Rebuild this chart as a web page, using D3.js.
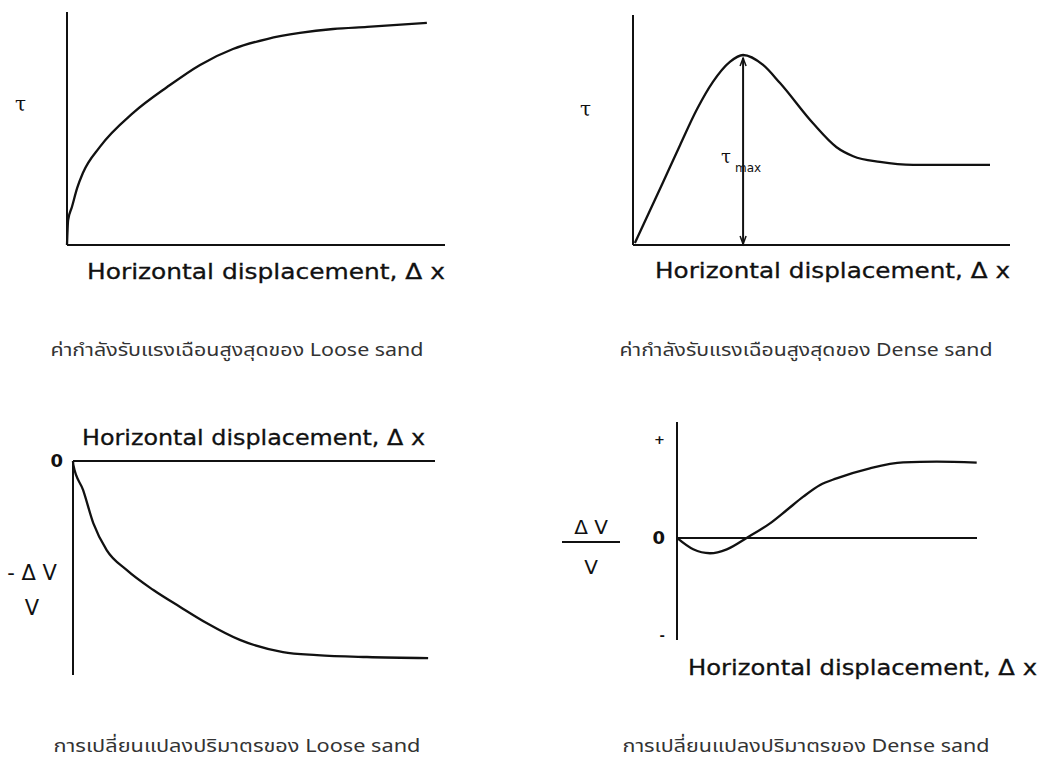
<!DOCTYPE html>
<html>
<head>
<meta charset="utf-8">
<script src="https://cdn.jsdelivr.net/npm/d3@7"></script>
<style>
  body { margin: 0; background: #fff; }
</style>
</head>
<body>
<div id="visualization"></div>
<script>
// shear stress vs horizontal displacement, loose sand
const looseShearX = [0, 0.3, 1.3, 2.7, 4.2, 8.7, 17.5, 26.5, 35.2, 43.9, 52.9, 61.6, 70.4, 79.4, 95.2];
const looseShearY = [0, 10.7, 16.3, 24.5, 30.9, 42.1, 56.7, 67.8, 77.3, 84.1, 88.4, 91, 92.7, 93.6, 95.3];

// shear stress vs horizontal displacement, dense sand (peak = tau max)
const denseShearX = [0.5, 8, 12.5, 17, 21.2, 25.7, 29.2, 34.5, 39, 47.7, 54, 58.4, 65.5, 74.3, 94.7];
const denseShearY = [0.9, 27.4, 43.5, 59.1, 70.9, 79.6, 82.6, 78.3, 70.4, 53, 42.5, 38.6, 36.1, 34.8, 34.8];
const tauMaxX = 29.2;
const tauMaxY = 82.6;

// volume change, loose sand (contracts)
const looseVolX = [0, 0.1, 2.8, 5.6, 9.3, 14.8, 22.2, 29.6, 36.9, 46.1, 58, 67.4, 81.2, 98.1];
const looseVolY = [0, -1.9, -13.6, -29, -41.6, -50.9, -60.3, -68.2, -75.7, -83.6, -89.3, -90.7, -91.6, -92.1];

// volume change, dense sand (small dip then dilates)
const denseVolX = [0, 5.4, 11, 16.6, 23.2, 31, 36.6, 42.1, 47.7, 53.2, 64.3, 75.4, 86.6, 99.9];
const denseVolY = [0, -9.8, -13.2, -9.8, 0, 12.6, 24.1, 35.6, 45.7, 51.4, 60.1, 65.2, 65.8, 64.9];

// tick labels on the volume axes
const looseVolTicks = [0];
const looseVolTickLabels = ['0'];
const denseVolTicks = [85, 0, -84];
const denseVolTickLabels = ['+', '0', '-'];

const xLabel = 'Horizontal displacement, Δ x';
const captions = [
  'ค่ากำลังรับแรงเฉือนสูงสุดของ Loose sand',
  'ค่ากำลังรับแรงเฉือนสูงสุดของ Dense sand',
  'การเปลี่ยนแปลงปริมาตรของ Loose sand',
  'การเปลี่ยนแปลงปริมาตรของ Dense sand',
];
const captionWidths = [373, 373, 367, 367];

const labelFont = '"DejaVu Sans", sans-serif';
const captionFont = '"Noto Sans Thai", "Noto Sans", sans-serif';

const svg = d3.select('#visualization')
  .append('svg')
  .attr('width', 1046)
  .attr('height', 761);

const toPoints = (xs, ys) => xs.map((x, i) => [x, ys[i]]);

function makeScales(frame, yDomain) {
  const x = d3.scaleLinear().domain([0, 100]).range([frame.left, frame.right]);
  const y = d3.scaleLinear().domain(yDomain).range([frame.bottom, frame.top]);
  return [x, y];
}

function drawCurve(x, y, points) {
  svg.append('path')
    .datum(points)
    .attr('fill', 'none')
    .attr('stroke', '#111')
    .attr('stroke-width', 2.3)
    .attr('d', d3.line()
      .x((d) => x(d[0]))
      .y((d) => y(d[1]))
      .curve(d3.curveMonotoneX));
}

function axisLine(x1, y1, x2, y2) {
  svg.append('line')
    .attr('x1', x1).attr('y1', y1)
    .attr('x2', x2).attr('y2', y2)
    .attr('stroke', '#111')
    .attr('stroke-width', 2);
}

function bottomLabel(xPos, yPos, len) {
  svg.append('text')
    .attr('x', xPos)
    .attr('y', yPos)
    .attr('font-family', labelFont)
    .attr('font-size', 21)
    .attr('fill', '#111')
    .attr('stroke', '#111')
    .attr('stroke-width', 0.3)
    .attr('textLength', len)
    .attr('lengthAdjust', 'spacingAndGlyphs')
    .text(xLabel);
}

function tauLabel(xPos, yPos) {
  svg.append('text')
    .attr('x', xPos)
    .attr('y', yPos)
    .attr('font-family', '"DejaVu Serif", serif')
    .attr('font-size', 20)
    .attr('fill', '#111')
    .text('τ');
}

// ---- panel 1: loose sand shear ----
{
  const [x, y] = makeScales({ left: 67, right: 445, top: 12, bottom: 245 }, [0, 100]);
  axisLine(x(0), y(100), x(0), y(0));
  axisLine(x(0), y(0), x(100), y(0));
  drawCurve(x, y, toPoints(looseShearX, looseShearY));
  tauLabel(15, 111);
  bottomLabel(87, 279, 358);
}

// ---- panel 2: dense sand shear ----
{
  const [x, y] = makeScales({ left: 633, right: 1010, top: 15, bottom: 245 }, [0, 100]);
  axisLine(x(0), y(100), x(0), y(0));
  axisLine(x(0), y(0), x(100), y(0));
  drawCurve(x, y, toPoints(denseShearX, denseShearY));

  // double arrow for tau max
  const ax = x(tauMaxX);
  axisLine(ax, y(tauMaxY) + 3, ax, y(0) - 1);
  svg.append('path')
    .attr('d', `M${ax - 3},${y(tauMaxY) + 11}L${ax},${y(tauMaxY) + 3}L${ax + 3},${y(tauMaxY) + 11}`)
    .attr('fill', 'none').attr('stroke', '#111').attr('stroke-width', 1.5);
  svg.append('path')
    .attr('d', `M${ax - 3},${y(0) - 9}L${ax},${y(0) - 1}L${ax + 3},${y(0) - 9}`)
    .attr('fill', 'none').attr('stroke', '#111').attr('stroke-width', 1.5);

  const t = svg.append('text')
    .attr('x', ax - 22)
    .attr('y', 163)
    .attr('font-family', '"DejaVu Serif", serif')
    .attr('font-size', 18)
    .attr('fill', '#111');
  t.append('tspan').text('τ');
  t.append('tspan')
    .attr('dx', 4)
    .attr('dy', 9)
    .attr('font-family', labelFont)
    .attr('font-size', 12)
    .text('max');

  tauLabel(580, 116);
  bottomLabel(655, 278, 355);
}

// ---- panel 3: loose sand volume ----
{
  const [x, y] = makeScales({ left: 73, right: 435, top: 461, bottom: 675 }, [-100, 0]);
  axisLine(x(0), y(0), x(0), y(-100));
  axisLine(x(0), y(0), x(100), y(0));
  drawCurve(x, y, toPoints(looseVolX, looseVolY));

  const ax = svg.append('g')
    .attr('transform', `translate(${x(0)},0)`)
    .call(d3.axisLeft(y)
      .tickValues(looseVolTicks)
      .tickFormat((d, i) => looseVolTickLabels[i])
      .tickSize(0)
      .tickPadding(10));
  ax.select('.domain').remove();
  ax.selectAll('text')
    .attr('font-family', labelFont)
    .attr('font-weight', 'bold')
    .attr('font-size', 18)
    .attr('fill', '#111');

  svg.append('text')
    .attr('x', 32).attr('y', 580)
    .attr('text-anchor', 'middle')
    .attr('font-family', labelFont)
    .attr('font-size', 21)
    .attr('fill', '#111')
    .text('- Δ V');
  svg.append('text')
    .attr('x', 32).attr('y', 615)
    .attr('text-anchor', 'middle')
    .attr('font-family', labelFont)
    .attr('font-size', 21)
    .attr('fill', '#111')
    .text('V');

  bottomLabel(82, 445, 343);
}

// ---- panel 4: dense sand volume ----
{
  const [x, y] = makeScales({ left: 677, right: 977, top: 422, bottom: 640 }, [-88, 100]);
  axisLine(x(0), y(100), x(0), y(-88));
  axisLine(x(0), y(0), x(100), y(0));
  drawCurve(x, y, toPoints(denseVolX, denseVolY));

  const ax = svg.append('g')
    .attr('transform', `translate(${x(0)},0)`)
    .call(d3.axisLeft(y)
      .tickValues(denseVolTicks)
      .tickFormat((d, i) => denseVolTickLabels[i])
      .tickSize(0)
      .tickPadding(12));
  ax.select('.domain').remove();
  ax.selectAll('text')
    .attr('font-family', labelFont)
    .attr('font-weight', 'bold')
    .attr('font-size', (d) => (d === 0 ? 18 : 13))
    .attr('fill', '#111');

  // dV / V fraction
  svg.append('text')
    .attr('x', 591).attr('y', 534)
    .attr('text-anchor', 'middle')
    .attr('font-family', labelFont)
    .attr('font-size', 20)
    .attr('fill', '#111')
    .text('Δ V');
  axisLine(562, 542, 620, 542);
  svg.append('text')
    .attr('x', 591).attr('y', 574)
    .attr('text-anchor', 'middle')
    .attr('font-family', labelFont)
    .attr('font-size', 20)
    .attr('fill', '#111')
    .text('V');

  bottomLabel(688, 675, 349);
}

// ---- captions ----
svg.selectAll('text.caption')
  .data(captions)
  .enter()
  .append('text')
  .attr('class', 'caption')
  .attr('x', (d, i) => (i % 2 === 0 ? 237 : 806))
  .attr('y', (d, i) => (i < 2 ? 356 : 752))
  .attr('text-anchor', 'middle')
  .attr('font-family', captionFont)
  .attr('font-size', 18)
  .attr('textLength', (d, i) => captionWidths[i])
  .attr('lengthAdjust', 'spacingAndGlyphs')
  .attr('fill', '#333')
  .text((d) => d);
</script>
</body>
</html>
